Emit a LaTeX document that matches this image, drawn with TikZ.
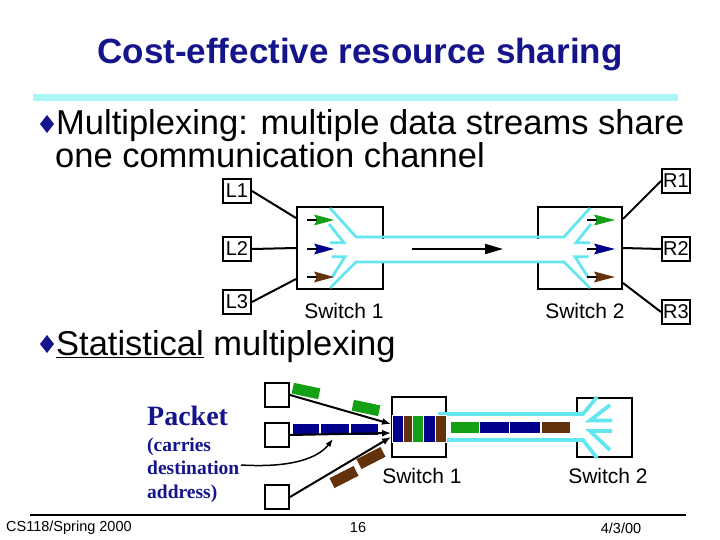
\documentclass[tikz,border=0pt]{standalone}
\usepackage{fontspec}
\setmainfont{Liberation Sans}
\newfontfamily\serifb{Liberation Serif}
\usetikzlibrary{arrows.meta,calc}
\definecolor{navy}{RGB}{20,20,140}
\definecolor{pgreen}{RGB}{20,160,20}
\definecolor{pblue}{RGB}{0,0,140}
\definecolor{pbrown}{RGB}{100,50,10}
\definecolor{chcyan}{RGB}{100,230,240}
\definecolor{rulecyan}{RGB}{170,245,245}
\tikzset{
  lbox/.style={draw, line width=2pt, minimum width=28pt, minimum height=24pt, inner sep=0pt, font=\fontsize{20}{20}\selectfont},
  sbox/.style={draw, line width=2pt, minimum width=24pt, minimum height=24pt, inner sep=0pt},
  swbox/.style={draw, line width=2pt, inner sep=0pt},
  conn/.style={line width=2pt},
  aconn/.style={line width=2pt, -{Latex[length=9pt,width=7pt]}},
  fan/.style={chcyan, line width=2.8pt},
  fanb/.style={chcyan, line width=3.8pt},
  swlabel/.style={font=\fontsize{21}{21}\selectfont, inner sep=0pt},
  bul/.style={anchor=base west, inner sep=0pt, font=\fontsize{34.5}{40}\selectfont},
  packet/.style={minimum width=27pt, minimum height=11pt, inner sep=0pt},
  seg/.style={draw=white, line width=0.8pt},
  pktxt/.style={anchor=base west, inner sep=0pt, text=navy, font=\serifb\bfseries\fontsize{19.5}{20}\selectfont},
  foot/.style={inner sep=0pt, font=\fontsize{14.5}{14.5}\selectfont}
}
\begin{document}
\begin{tikzpicture}[x=1pt,y=-1pt]
\useasboundingbox[fill=white] (0,0) rectangle (720,540);

% title and rule
\node[anchor=base, inner sep=0pt, text=navy, font=\fontsize{35}{40}\selectfont\bfseries] (title) at (360,63.5) {Cost-effective resource sharing};
\draw[rulecyan, line width=7pt] (33,98) -- (678,98);

% bullets
\fill[navy] (40,124) -- (47,115) -- (54,124) -- (47,133) -- cycle;
\node[bul] (b1) at (56,135) {Multiplexing: multiple data streams share};
\node[bul] (b1b) at (55,168) {one communication channel};
\fill[navy] (40,344) -- (47,335) -- (54,344) -- (47,353) -- cycle;
\node[bul] (b2) at (56,355) {\underline{Statistical} multiplexing};

% ---------- diagram 1 ----------
\node[swbox, minimum width=86pt, minimum height=82pt] (sw1) at (340,248) {};
\node[swbox, minimum width=84pt, minimum height=82pt] (sw2) at (580,248) {};
\node[lbox] (L1) at (237,191) {L1};
\node[lbox] (L2) at (237,249) {L2};
\node[lbox] (L3) at (237,302) {L3};
\node[lbox] (R1) at (676,181) {R1};
\node[lbox] (R2) at (676,249) {R2};
\node[lbox] (R3) at (676,312) {R3};

\draw[conn] (L1.east) -- ([yshift=-12pt]sw1.north west);
\draw[conn] (L2.east) -- (sw1.west);
\draw[conn] (L3.east) -- ([yshift=11pt]sw1.south west);
\draw[conn] ([yshift=-13pt]sw2.north east) -- (R1.west);
\draw[conn] (sw2.east) -- (R2.west);
\draw[conn] ([yshift=7pt]sw2.south east) -- (R3.west);

% channel
\fill[white] (356,238.5) rectangle (564,260.5);
\draw[fan] (330,208) -- (356,237) -- (564,237) -- (590,208);
\draw[fan] (330,288) -- (356,262) -- (564,262) -- (590,288);
\draw[fan] (329,224) -- (344,242.7) -- (330,242.7);
\draw[fan] (331.5,256.7) -- (345,256.7) -- (331.5,278);
\draw[fan] (591,224) -- (576,242.7) -- (590,242.7);
\draw[fan] (588.5,256.7) -- (575,256.7) -- (588.5,278);

% small arrows in switches
\foreach \yy/\cc in {220/pgreen, 249/pblue, 277/pbrown}{
  \draw[line width=2pt] (307,\yy) -- (318,\yy);
  \fill[\cc] (314,\yy-5.5) -- (334,\yy) -- (314,\yy+5.5) -- (317,\yy) -- cycle;
  \draw[line width=2pt] (587,\yy) -- (598,\yy);
  \fill[\cc] (594,\yy-5.5) -- (615,\yy) -- (594,\yy+5.5) -- (597,\yy) -- cycle;
}
% channel arrow
\coordinate (ca) at (412,249);
\coordinate (cb) at (503,249);
\draw[line width=2pt, -{Triangle[length=18pt,width=10pt]}] (ca) -- (cb);

\node[swlabel] (sw1l) at (344,311) {Switch 1};
\node[swlabel] (sw2l) at (585,311) {Switch 2};

% ---------- diagram 2 ----------
\node[swbox, minimum width=54pt, minimum height=60pt] (sb1) at (419,427) {};
\node[swbox, minimum width=55pt, minimum height=59pt] (sb2) at (604.5,427.5) {};
\node[sbox] (h1) at (277,395) {};
\node[sbox] (h2) at (277,435) {};
\node[sbox] (h3) at (277,497) {};

% channel 2
\fill[white] (438,416) rectangle (583,438);
\draw[fanb] (438,414) -- (583,414) -- (597,397);
\draw[fanb] (438,440) -- (583,440) -- (597,458);
\draw[fanb] (610,405) -- (590,420.5) -- (612,420.5);
\draw[fanb] (612,431) -- (590,431) -- (610,450);

% packets in switch 1
\filldraw[seg, fill=pblue] (392,415) rectangle (403,442);
\filldraw[seg, fill=pbrown] (403,415) rectangle (412,442);
\filldraw[seg, fill=pgreen] (412,415) rectangle (423,442);
\filldraw[seg, fill=pblue] (423,415) rectangle (435,442);
\filldraw[seg, fill=pbrown] (435,415) rectangle (446,442);
% packets in channel
\filldraw[seg, fill=pgreen] (450,421) rectangle (479,433);
\filldraw[seg, fill=pblue] (479,421) rectangle (509,433);
\filldraw[seg, fill=pblue] (509,421) rectangle (540,433);
\filldraw[seg, fill=pbrown] (541,421) rectangle (570,433);

% incoming packets
\node[packet, fill=pgreen, rotate=-12] (g1) at (306,391) {};
\node[packet, fill=pgreen, rotate=-12] (g2) at (366,408) {};
\filldraw[seg, fill=pblue] (292,423) rectangle (319,435);
\filldraw[seg, fill=pblue] (320,423) rectangle (349,435);
\filldraw[seg, fill=pblue] (350,423) rectangle (378,435);
\node[packet, fill=pbrown, rotate=27] (r1) at (344,477) {};
\node[packet, fill=pbrown, rotate=27] (r2) at (371,458) {};

% arrows into switch 1
\draw[aconn] (h1.east) -- ([yshift=3pt]sb1.west);
\draw[aconn] (h2.east) -- ([yshift=-6pt]sb1.west);
\draw[aconn] (h3.east) -- ([yshift=-10pt]sb1.west);

% packet text
\node[anchor=base west, inner sep=0pt, text=navy, font=\serifb\bfseries\fontsize{28}{28}\selectfont] (pk) at (147,425) {Packet};
\node[pktxt] (pk1) at (147,451) {(carries};
\node[pktxt] (pk2) at (147,474) {destination};
\node[pktxt] (pk3) at (147,498) {address)};
\coordinate (cstart) at (241,465);
\draw[line width=1.5pt, -{Latex[length=8pt,width=6pt]}] (cstart) .. controls (292,468) and (318,458) .. (333,439);

\node[swlabel] (sb1l) at (422,476) {Switch 1};
\node[swlabel] (sb2l) at (608,476) {Switch 2};

% footer
\draw[line width=2pt] (30,515) -- (686,515);
\node[foot, anchor=west] (f1) at (6,528) {CS118/Spring 2000};
\node[foot] (f2) at (358,528) {16};
\node[foot] (f3) at (621,528) {4/3/00};
\end{tikzpicture}
\end{document}
